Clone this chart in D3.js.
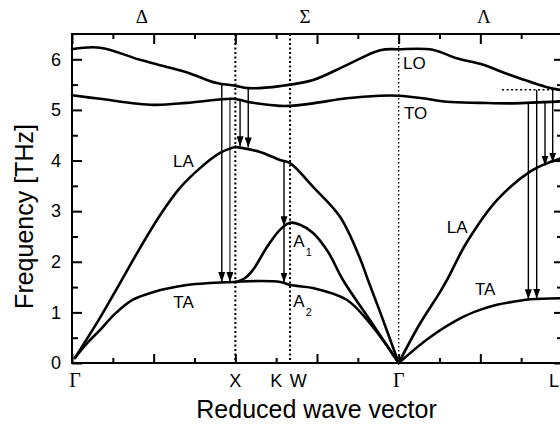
<!DOCTYPE html>
<html><head><meta charset="utf-8">
<script src="https://cdn.jsdelivr.net/npm/d3@7"></script>
<style>
body{margin:0;background:#fff;}
svg{display:block;background:#fff;}
</style></head><body>
<svg id="chart" width="560" height="427"></svg>
<script>
// ---------- data ----------
const pointNames = ["Γ","X","K","W","Γ","L"];
const pointPos   = [0, 1, 1.25, 1.385, 2, 3];
const directionNames = ["Δ","Σ","Λ"];
const directionPos   = [0.427, 1.427, 2.522];
const guideX = [1, 1.335, 2];
const yMajorTicks = [0,1,2,3,4,5,6];
const yMinorTicks = [0.5,1.5,2.5,3.5,4.5,5.5];
const xMajorTicks = [0,0.5,1,1.5,2,2.5,3];
const xMinorTicks = [0.25,0.75,1.25,1.75,2.25,2.75];

const loX = [0,0.171,0.416,0.58,0.722,0.886,0.998,1.078,1.273,1.476,1.684,1.886,2.0,2.208,2.355,2.498,2.70,2.908,3.0];
const loY = [6.20,6.23,5.99,5.85,5.72,5.53,5.48,5.43,5.47,5.59,5.89,6.18,6.20,6.19,6.02,5.91,5.67,5.45,5.39];
const toX = [0,0.171,0.498,0.702,0.886,0.988,1.108,1.273,1.335,1.476,1.682,1.886,2.0,2.147,2.294,2.498,2.70,3.0];
const toY = [5.29,5.22,5.10,5.14,5.20,5.22,5.14,5.08,5.08,5.13,5.23,5.28,5.28,5.23,5.16,5.14,5.13,5.17];
const laDeltaX = [0.018,0.171,0.294,0.416,0.539,0.661,0.784,0.906,1.0];
const laDeltaY = [0.10,0.89,1.58,2.27,2.92,3.46,3.85,4.15,4.27];
const taDeltaX = [0.018,0.098,0.171,0.263,0.373,0.496,0.704,0.845,1.0];
const taDeltaY = [0.10,0.41,0.65,0.97,1.25,1.40,1.54,1.58,1.60];
const laSigmaX = [1.0,1.151,1.273,1.335,1.476,1.641,1.763,1.812,1.886,2.0];
const laSigmaY = [4.27,4.17,4.01,3.95,3.48,2.89,2.07,1.64,1.01,0];
const a1X = [1.0,1.06,1.108,1.194,1.273,1.335,1.396,1.476,1.567,1.659,1.83,2.0];
const a1Y = [1.60,1.68,1.84,2.29,2.63,2.77,2.73,2.57,2.20,1.64,0.82,0];
const a2X = [1.0,1.153,1.276,1.337,1.476,1.684,1.843,2.0];
const a2Y = [1.60,1.62,1.60,1.54,1.48,1.245,0.71,0];
const laLambdaX = [2.0,2.129,2.253,2.296,2.418,2.602,2.804,2.896,3.0];
const laLambdaY = [0,0.77,1.40,1.64,2.39,3.22,3.78,3.93,4.05];
const taLambdaX = [2.0,2.192,2.394,2.498,2.602,2.70,2.804,3.0];
const taLambdaY = [0,0.51,0.91,1.05,1.15,1.21,1.26,1.28];

const arrowX    = [0.917,0.967,1.029,1.079,1.298,1.298,2.794,2.845,2.896,2.943];
const arrowFrom = [5.51,5.21,5.21,5.43,4.00,2.70,5.13,5.40,5.14,5.40];
const arrowTo   = [1.60,1.60,4.28,4.26,2.70,1.59,1.26,1.27,3.90,3.96];

const refLineX = [2.633, 2.94];
const refLineY = 5.40;

const branchLabels = ["LO","TO","LA","TA","LA","TA","A","A"];
const branchSubs   = ["","","","","","","1","2"];
const labelX = [2.027,2.033,0.618,0.620,2.294,2.467,1.355,1.355];
const labelY = [5.80,4.83,3.88,1.08,2.56,1.34,2.30,1.11];

// ---------- chart ----------
const svg = d3.select("#chart");
const x = d3.scaleLinear().domain([0,3]).range([72,562]);
const y = d3.scaleLinear().domain([0,6.5]).range([363,34]);
const SANS = "'Liberation Sans', Arial, Helvetica, sans-serif";
const SERIF = "'Liberation Serif', 'Times New Roman', serif";

const line = d3.line().x(d=>x(d[0])).y(d=>y(d[1])).curve(d3.curveCatmullRom.alpha(0.5));
const branches = [[loX,loY],[toX,toY],[laDeltaX,laDeltaY],[taDeltaX,taDeltaY],[laSigmaX,laSigmaY],[a1X,a1Y],[a2X,a2Y],[laLambdaX,laLambdaY],[taLambdaX,taLambdaY]];

// dotted guides
svg.append("g").selectAll("line").data(guideX).join("line")
  .attr("x1",d=>x(d)).attr("x2",d=>x(d)).attr("y1",y(6.5)).attr("y2",y(0))
  .attr("stroke","#000")
  .attr("stroke-width",(d,i)=> i===2 ? 1.4 : 2)
  .attr("stroke-dasharray",(d,i)=> i===2 ? "1.5,2.5" : "2,2.5");

// horizontal dotted reference
svg.append("line")
  .attr("x1",x(refLineX[0])).attr("x2",x(refLineX[1]))
  .attr("y1",y(refLineY)).attr("y2",y(refLineY))
  .attr("stroke","#000").attr("stroke-width",1.5).attr("stroke-dasharray","2,2.5");

// arrows
const defs = svg.append("defs");
defs.append("marker").attr("id","ah")
  .attr("viewBox","0 -3.5 10 7").attr("refX",10).attr("refY",0)
  .attr("markerWidth",10).attr("markerHeight",7)
  .attr("markerUnits","userSpaceOnUse").attr("orient","auto")
  .append("path").attr("d","M0,-3.5L10,0L0,3.5Z").attr("fill","#000");

svg.append("g").selectAll("line").data(arrowX).join("line")
  .attr("x1",d=>x(d)).attr("x2",d=>x(d))
  .attr("y1",(d,i)=>y(arrowFrom[i])).attr("y2",(d,i)=>y(arrowTo[i]))
  .attr("stroke",(d,i)=> i===1 ? "#444" : "#000").attr("stroke-width",1.4)
  .attr("marker-end","url(#ah)");

// branches
svg.append("g").selectAll("path").data(branches).join("path")
  .attr("d",b=>line(b[0].map((v,i)=>[v,b[1][i]])))
  .attr("fill","none").attr("stroke","#000").attr("stroke-width",2.6)
  .attr("stroke-linejoin","round").attr("stroke-linecap","round");

// frame
svg.append("rect").attr("x",x(0)).attr("y",y(6.5))
  .attr("width",x(3)-x(0)).attr("height",y(0)-y(6.5))
  .attr("fill","none").attr("stroke","#000").attr("stroke-width",2);

function ticks(gen, tf){
  const g = svg.append("g").attr("transform",tf).call(gen);
  g.select(".domain").remove();
  g.selectAll(".tick line").attr("stroke","#000").attr("stroke-width",2);
  return g;
}
ticks(d3.axisBottom(x).tickValues(xMajorTicks).tickSize(-9).tickSizeOuter(0).tickFormat(""),`translate(0,${y(0)})`);
ticks(d3.axisBottom(x).tickValues(xMinorTicks).tickSize(-5).tickSizeOuter(0).tickFormat(""),`translate(0,${y(0)})`);
ticks(d3.axisTop(x).tickValues(xMajorTicks).tickSize(-10).tickSizeOuter(0).tickFormat(""),`translate(0,${y(6.5)})`);
ticks(d3.axisTop(x).tickValues(xMinorTicks).tickSize(-5).tickSizeOuter(0).tickFormat(""),`translate(0,${y(6.5)})`);
ticks(d3.axisRight(y).tickValues(yMajorTicks).tickSize(-8).tickSizeOuter(0).tickFormat(""),`translate(${x(3)},0)`);
ticks(d3.axisRight(y).tickValues(yMinorTicks).tickSize(-5).tickSizeOuter(0).tickFormat(""),`translate(${x(3)},0)`);
ticks(d3.axisLeft(y).tickValues(yMinorTicks).tickSize(-6).tickSizeOuter(0).tickFormat(""),`translate(${x(0)},0)`);
const yAx = ticks(d3.axisLeft(y).tickValues(yMajorTicks).tickSize(-10).tickSizeOuter(0).tickPadding(11).tickFormat(d3.format("d")),`translate(${x(0)},0)`);
yAx.selectAll(".tick text").attr("font-family",SANS).attr("font-size",18).attr("fill","#000");

// symmetry point labels (last one kept inside the visible area)
svg.append("g").selectAll("text").data(pointNames).join("text")
  .attr("x",(d,i)=> i===pointNames.length-1 ? Math.min(x(pointPos[i]), 559) : x(pointPos[i]) + (i===0?3:0))
  .attr("y",y(0)+24)
  .attr("text-anchor",(d,i)=> i===pointNames.length-1 ? "end" : "middle")
  .attr("font-family",d=> d==="Γ" ? SERIF : SANS)
  .attr("font-size",d=> d==="Γ" ? 20 : 18)
  .attr("fill","#000").text(d=>d);

// direction labels
svg.append("g").selectAll("text").data(directionNames).join("text")
  .attr("x",(d,i)=>x(directionPos[i])).attr("y",23)
  .attr("text-anchor","middle").attr("font-family",SERIF).attr("font-size",19)
  .attr("fill","#000").text(d=>d);

// branch labels
const bl = svg.append("g").selectAll("text").data(branchLabels).join("text")
  .attr("x",(d,i)=>x(labelX[i])).attr("y",(d,i)=>y(labelY[i]))
  .attr("font-family",SANS).attr("font-size",17).attr("fill","#000");
bl.append("tspan").text(d=>d);
bl.append("tspan").attr("font-size",11).attr("dy",(d,i)=>branchSubs[i]?9:0).attr("dx",1)
  .text((d,i)=>branchSubs[i]);

// axis titles
svg.append("text").attr("x",316.5).attr("y",418).attr("text-anchor","middle")
  .attr("font-family",SANS).attr("font-size",25).attr("fill","#000")
  .text("Reduced wave vector");
svg.append("text").attr("transform","translate(33,216.5) rotate(-90)")
  .attr("text-anchor","middle").attr("font-family",SANS).attr("font-size",25).attr("fill","#000")
  .text("Frequency [THz]");
</script>
</body></html>
